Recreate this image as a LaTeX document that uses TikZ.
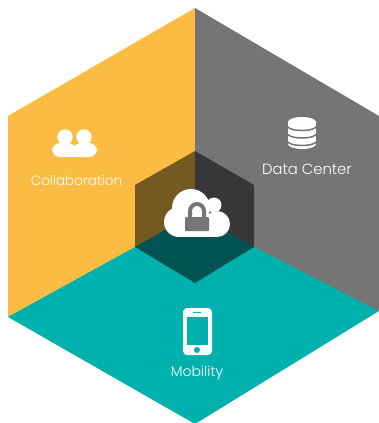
\documentclass[tikz,border=0pt]{standalone}
\usepackage{fontspec}
\setmainfont{Poppins Light}
\definecolor{cyel}{HTML}{FBBC43}
\definecolor{cgry}{HTML}{757575}
\definecolor{cteal}{HTML}{00B1AE}
\definecolor{dyel}{HTML}{745A20}
\definecolor{dgry}{HTML}{373737}
\definecolor{dteal}{HTML}{005352}
\tikzset{lbl/.style={text=white,font=\fontsize{14}{16}\selectfont,inner sep=0pt},
 ico/.style={fill=white,draw=none}}
\begin{document}
\begin{tikzpicture}[x=1pt,y=-1pt]
\useasboundingbox (0,0) rectangle (379,423);
\fill[white] (0,0) rectangle (379,423);
\fill[cyel] (195,8) -- (8,116) -- (8,317) -- (195,248) -- cycle;
\fill[cgry] (195,8) -- (379,116) -- (379,311) -- (195,248) -- cycle;
\fill[cteal] (8,317) -- (135,247) -- (195,247) -- (254,247) -- (379,311) -- (195,424) -- cycle;
\fill[dyel] (195,151) -- (135,185) -- (135,247) -- (195,247) -- cycle;
\fill[dgry] (195,151) -- (254,185) -- (254,247) -- (195,247) -- cycle;
\fill[dteal] (135,247) -- (195,213) -- (254,247) -- (195,283) -- cycle;
% cloud
\fill[ico] (191,208) circle (19);
\fill[ico] (214,205) circle (7.5);
\fill[ico] (179,222) circle (15);
\fill[ico] (217,224) circle (13);
\fill[ico] (179,215) rectangle (217,237);
% lock
\fill[cgry,rounded corners=1pt] (185,217) rectangle (209,231);
\draw[cgry,line width=4pt] (190,218) -- (190,211) arc[start angle=180,end angle=360,radius=7] -- (204,218);
% people
\fill[ico] (65,137) circle (7.7);
\fill[ico] (84,137) circle (7.7);
\fill[ico,rounded corners=8pt] (52,157) -- (52,143) -- (76,143) -- (76,157) -- cycle;
\fill[ico,rounded corners=8pt] (73,157) -- (73,143) -- (97,143) -- (97,157) -- cycle;
\fill[ico] (60,146) rectangle (90,157);
\node[lbl,font=\fontsize{13.5}{16}\selectfont] (collab) at (76.5,180) {Collaboration};
% database
\fill[ico] (302,122) ellipse (14 and 5);
\fill[ico] (288,122) rectangle (316,144);
\fill[ico] (302,144) ellipse (14 and 5);
\draw[cgry,line width=1.5pt] (287,125.5) arc[start angle=180,end angle=0,x radius=15,y radius=5];
\draw[cgry,line width=1.5pt] (287,133) arc[start angle=180,end angle=0,x radius=15,y radius=5];
\draw[cgry,line width=1.5pt] (287,140.5) arc[start angle=180,end angle=0,x radius=15,y radius=5];
\node[lbl,font=\fontsize{14.8}{16}\selectfont] (dc) at (307,169) {Data Center};
% phone
\fill[ico,rounded corners=4pt] (183,308) rectangle (212,355);
\fill[cteal] (187,317) rectangle (208,345);
\fill[cteal] (193,312) rectangle (201,313);
\fill[cteal] (197,350) circle (3);
\node[lbl] (mob) at (197,373.5) {Mobility};
\end{tikzpicture}
\end{document}
